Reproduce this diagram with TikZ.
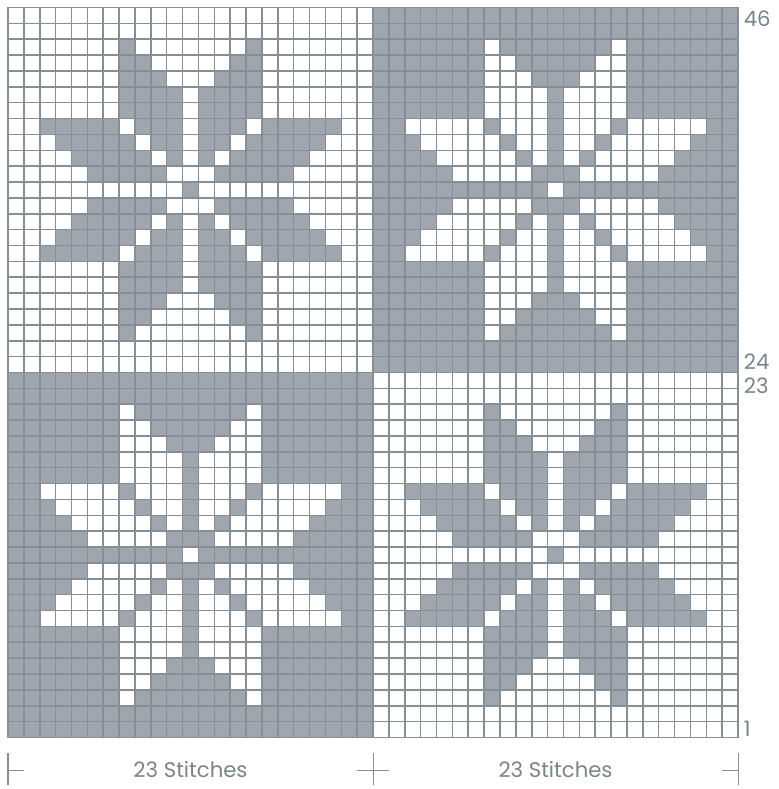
\documentclass[tikz,border=0pt]{standalone}
\usepackage{fontspec}
\setmainfont{Poppins}
\definecolor{cellgray}{HTML}{9FA6AD}
\definecolor{linegray}{HTML}{878F96}
\definecolor{textgray}{HTML}{7B848B}
\begin{document}
\begin{tikzpicture}[x=0.5cm,y=0.5cm,
  gridline/.style={draw=linegray,line width=1.4pt},
  lbl/.style={text=textgray,font=\fontsize{19}{22}\selectfont,inner sep=0pt},
  tickline/.style={draw=linegray,line width=0.9pt}]
\useasboundingbox (-0.504,-3.245) rectangle (48.52,46.47);
\fill[white] (-0.504,-3.245) rectangle (48.52,46.47);
% quadrant backgrounds
\fill[cellgray] (23,23) rectangle (46,46);
\fill[cellgray] (0,0) rectangle (23,23);
% stars
\foreach \qx/\qt/\fc in {0/46/cellgray, 23/46/white, 0/23/white, 23/23/cellgray}{
  \foreach \r/\a/\b in {2/7/7, 2/15/15, 3/7/8, 3/14/15, 4/7/9, 4/13/15,
    5/7/10, 5/12/15, 6/7/10, 6/12/15,
    7/2/6, 7/8/10, 7/12/14, 7/16/20,
    8/3/7, 8/9/10, 8/12/13, 8/15/19,
    9/4/8, 9/10/10, 9/12/12, 9/14/18,
    10/5/9, 10/13/17, 11/11/11}{
    \fill[\fc] (\qx+\a, \qt-\r-1) rectangle (\qx+\b+1, \qt-\r);
    \fill[\fc] (\qx+\a, \qt-23+\r) rectangle (\qx+\b+1, \qt-22+\r);
  }
}
% grid
\foreach \i in {1,...,45}{
  \draw[gridline] (\i,0) -- (\i,46);
  \draw[gridline] (0,\i) -- (46,\i);
}
\draw[gridline,line cap=rect] (0,0) rectangle (46,46);
% row labels
\node[lbl,anchor=base west] (n46) at (46.35,44.77) {46};
\node[lbl,anchor=base west] (n24) at (46.35,23.16) {24};
\node[lbl,anchor=base west] (n23) at (46.35,21.70) {23};
\node[lbl,anchor=base west] (n1) at (46.35,0.05) {1};
% stitch labels
\node[lbl,anchor=base] (s1) at (11.5,-2.55) {23 Stitches};
\node[lbl,anchor=base] (s2) at (34.5,-2.55) {23 Stitches};
% ticks
\coordinate (lt) at (0,-0.98);
\coordinate (lb) at (0,-2.99);
\coordinate (lm) at (0,-2.05);
\coordinate (lr) at (0.98,-2.05);
\coordinate (mt) at (23,-0.98);
\coordinate (mb) at (23,-2.99);
\coordinate (ml) at (22.02,-2.05);
\coordinate (mr) at (23.98,-2.05);
\coordinate (rt) at (46,-0.98);
\coordinate (rb) at (46,-2.99);
\coordinate (rl) at (45.02,-2.05);
\coordinate (rm) at (46,-2.05);
\draw[tickline] (lt) -- (lb);
\draw[tickline] (lm) -- (lr);
\draw[tickline] (mt) -- (mb);
\draw[tickline] (ml) -- (mr);
\draw[tickline] (rt) -- (rb);
\draw[tickline] (rl) -- (rm);
\end{tikzpicture}
\end{document}
